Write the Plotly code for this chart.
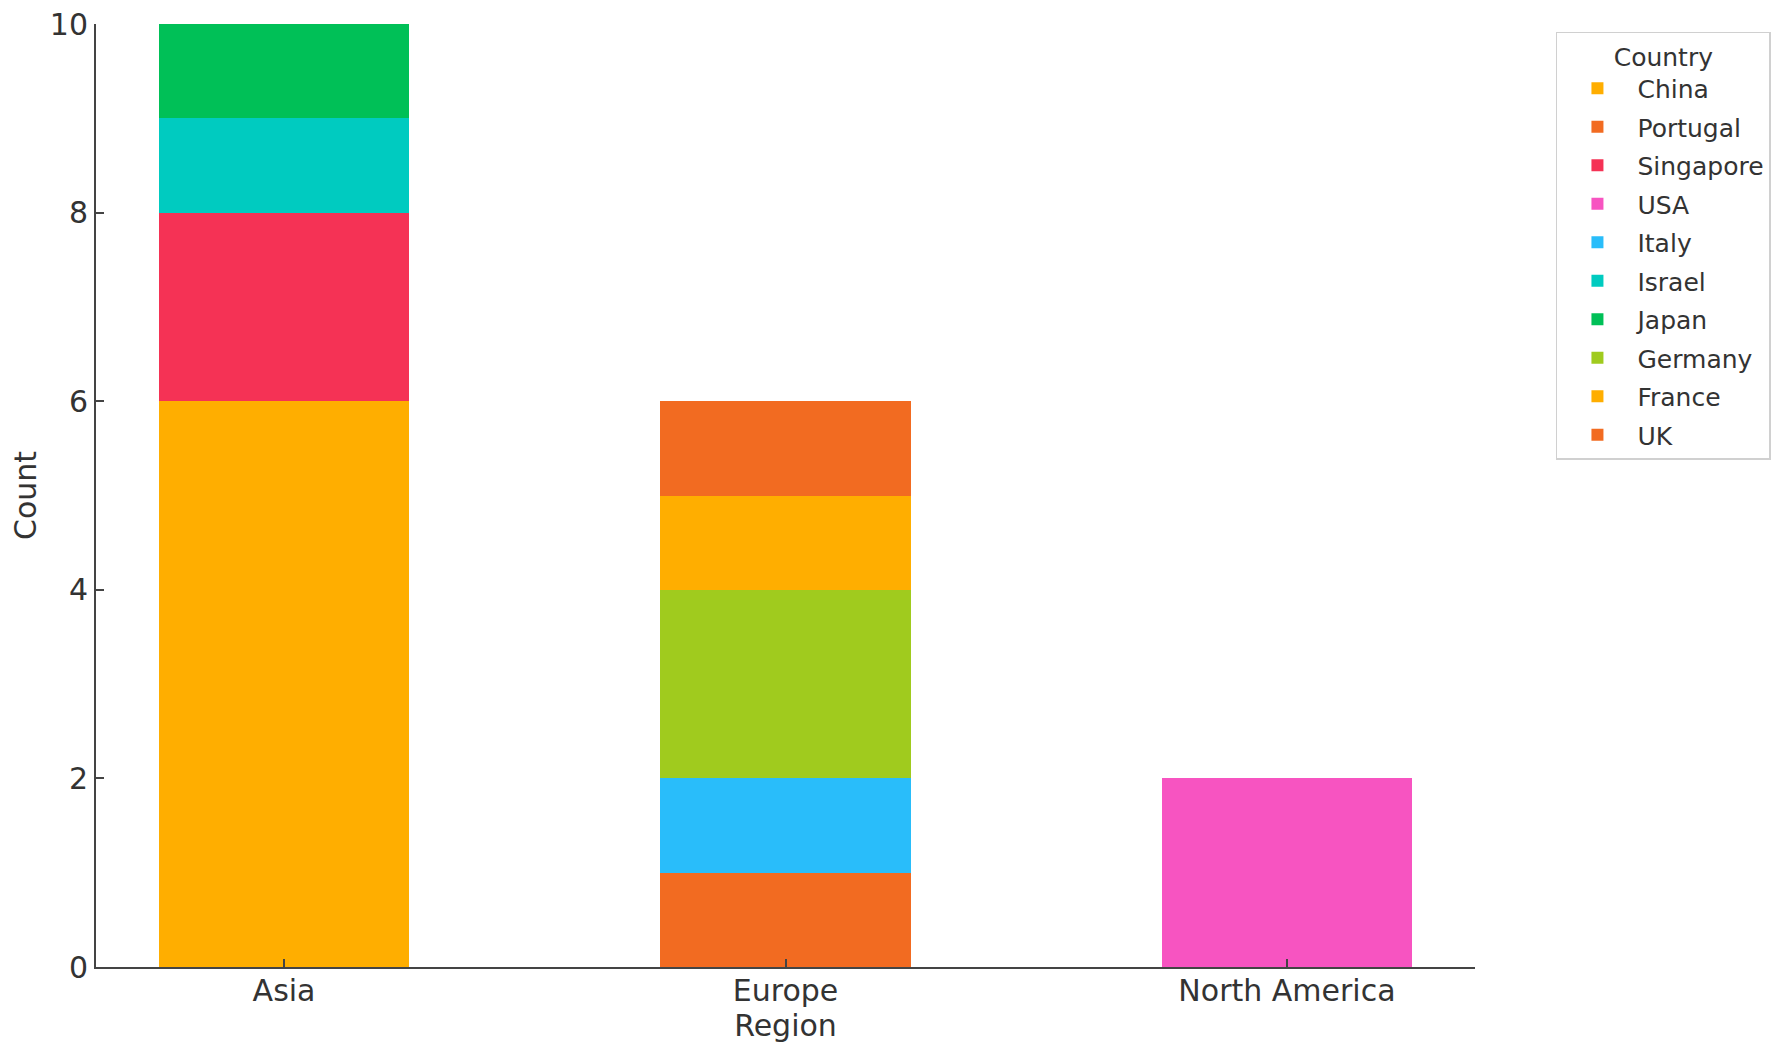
import plotly.graph_objects as go

# Data
regions = ["Asia", "Europe", "North America"]
countries = ["China", "Portugal", "Singapore", "USA", "Italy",
             "Israel", "Japan", "Germany", "France", "UK"]
country_region = ["Asia", "Europe", "Asia", "North America", "Europe",
                  "Asia", "Asia", "Europe", "Europe", "Europe"]
country_count = [6, 1, 2, 2, 1, 1, 1, 2, 1, 1]
country_color = ["#FFAE00", "#F26B21", "#F53255", "#F754C1", "#29BDFA",
                 "#00CBC0", "#00C057", "#A0CB1E", "#FFAE00", "#F26B21"]

FONT = "DejaVu Sans"
TEXT = "#333333"
AXIS = "#444444"

fig = go.Figure()

for name, region, count, color in zip(countries, country_region, country_count, country_color):
    fig.add_trace(
        go.Bar(
            x=[region],
            y=[count],
            name=name,
            legendgroup=name,  # one group per item so tracegroupgap spaces them out
            width=0.5,
            marker=dict(color=color, line=dict(width=0)),
        )
    )

# the page body adds an 8px offset, margins compensate for it
fig.update_layout(
    width=1784,
    height=1056,
    barmode="stack",
    paper_bgcolor="white",
    plot_bgcolor="white",
    margin=dict(l=88, r=317, t=16, b=97),
    font=dict(family=FONT, size=30, color=TEXT),
    legend=dict(
        title=dict(text="Country", side="top center", font=dict(size=25, color=TEXT)),
        traceorder="grouped",
        font=dict(size=25, color=TEXT),
        x=1.0587,
        y=0.992,
        xanchor="left",
        yanchor="top",
        bgcolor="white",
        bordercolor="#D0D0D0",
        borderwidth=1.5,
        itemwidth=70,
        tracegroupgap=3,
    ),
)

fig.update_xaxes(
    type="category",
    categoryorder="array",
    categoryarray=regions,
    range=[-0.375, 2.375],
    automargin=False,
    showline=True,
    linecolor=AXIS,
    linewidth=2,
    ticks="inside",
    ticklen=8,
    tickwidth=1.5,
    tickcolor=AXIS,
    showgrid=False,
    zeroline=False,
    ticklabelstandoff=-4,
    ticklabeloverflow="allow",
    tickfont=dict(size=30, color=TEXT),
    title=dict(text="Region", font=dict(size=30, color=TEXT), standoff=8),
)

fig.update_yaxes(
    range=[0, 10],
    dtick=2,
    automargin=False,
    showline=True,
    linecolor=AXIS,
    linewidth=2,
    ticks="inside",
    ticklen=8,
    tickwidth=1.5,
    tickcolor=AXIS,
    showgrid=False,
    zeroline=False,
    ticklabeloverflow="allow",
    tickfont=dict(size=30, color=TEXT),
    title=dict(text="Count", font=dict(size=30, color=TEXT), standoff=35),
)

fig.write_html("out.html")
